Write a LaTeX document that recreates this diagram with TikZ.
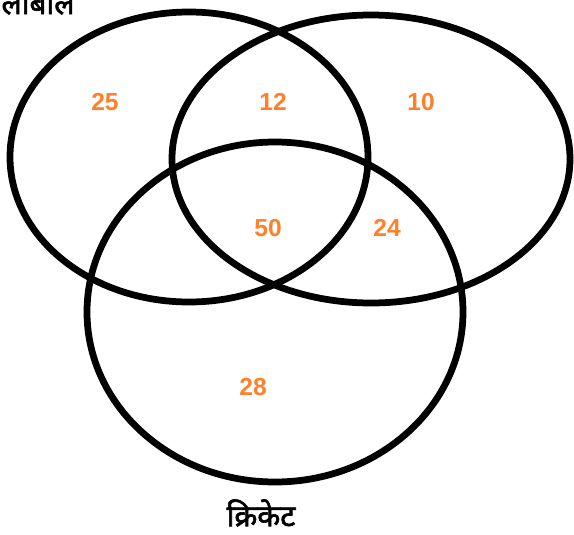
\documentclass[tikz,border=0pt]{standalone}
\usepackage{fontspec}
\setmainfont{Liberation Sans}
\newfontfamily\hindi[Script=Devanagari,FakeBold=2]{Noto Sans}
\usepackage{xcolor}
\usepackage{tikz}
\usetikzlibrary{positioning}
\definecolor{numorange}{RGB}{255,128,40}

\begin{document}
\begin{tikzpicture}[x=0.02cm,y=-0.02cm,
		ring/.style={line width=0.135cm,black},
		num/.style={font=\bfseries\fontsize{14}{16}\selectfont,text=numorange},
		setlabel/.style={font=\hindi\fontsize{17}{20}\selectfont}]
			\useasboundingbox (0,0) rectangle (574,534);
			\clip (0,0) rectangle (574,534);

			\draw[ring] (189,157) ellipse [x radius=179, y radius=145];
			\draw[ring] (371,159) ellipse [x radius=199, y radius=144];
			\draw[ring] (275,312) ellipse [x radius=188, y radius=170];

			\node[num] (a) at (105,102) {25};
			\node[num] (ab) at (273,102) {12};
			\node[num] (b) at (421,102) {10};
			\node[num] (abc) at (268,228) {50};
			\node[num] (bc) at (387,228) {24};
			\node[num] (c) at (253,387) {28};

			\node[setlabel] (volley) at (38,1) {लीबॉल};
			\node[setlabel] (cricket) at (261,513) {क्रिकेट};
		\end{tikzpicture}
\end{document}
